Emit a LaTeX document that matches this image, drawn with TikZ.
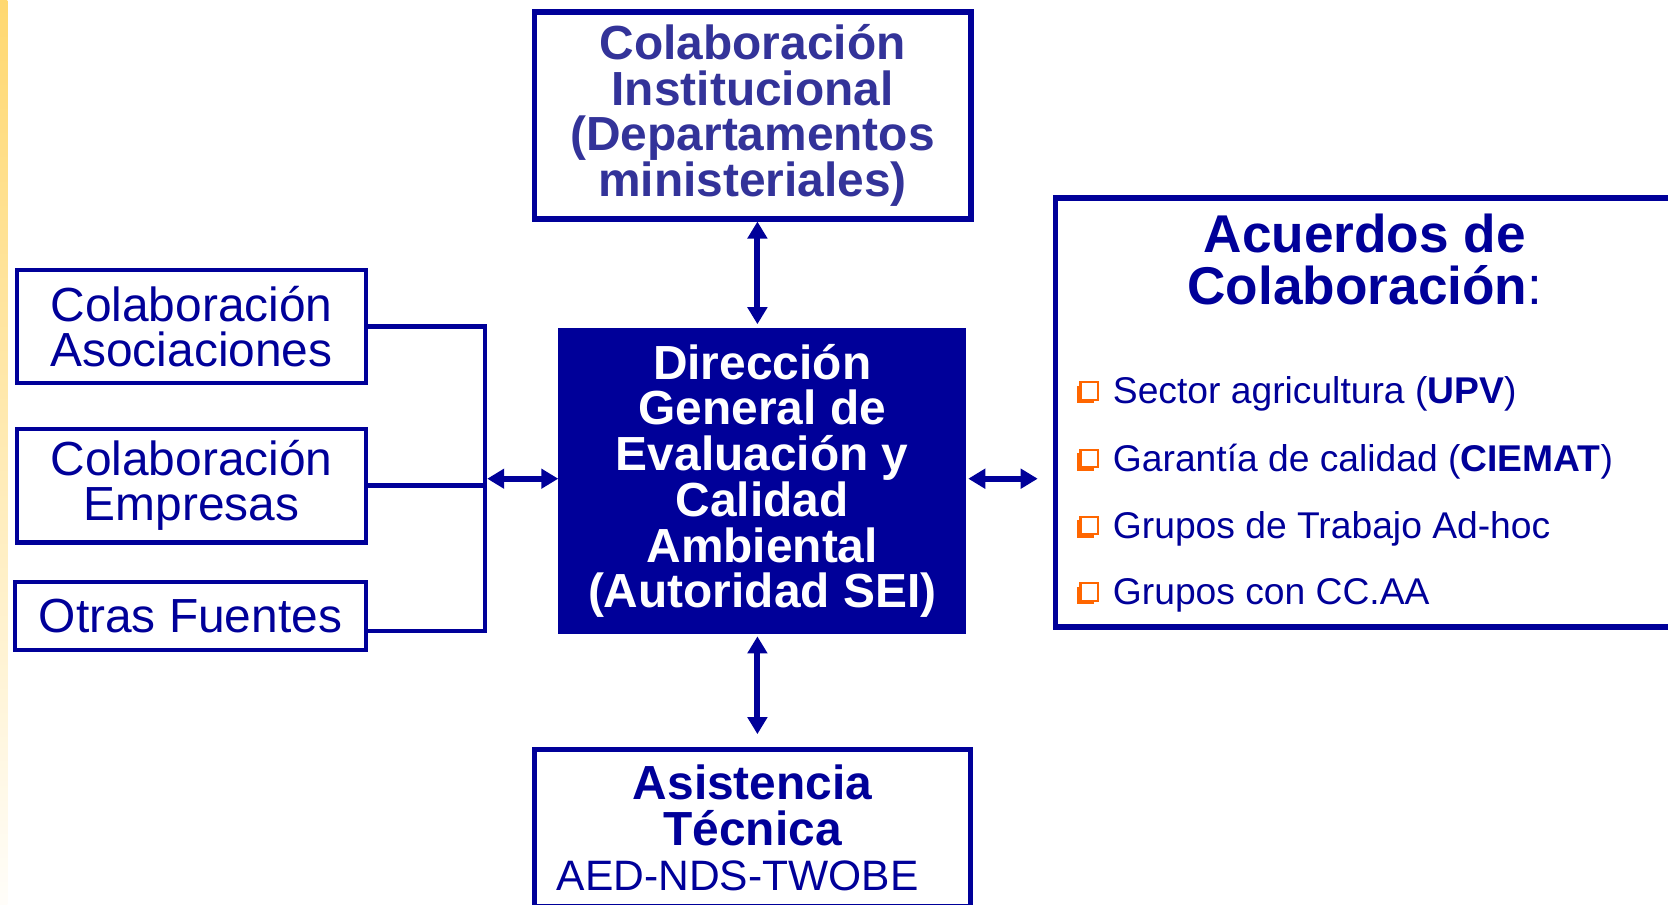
\documentclass[tikz,border=0pt]{standalone}
\usepackage{fontspec}
\setmainfont{Liberation Sans}
\usetikzlibrary{arrows.meta,shadows}

\definecolor{navy}{RGB}{0,0,153}
\definecolor{indigo}{RGB}{51,51,153}
\definecolor{bulletorange}{RGB}{255,102,0}
\definecolor{stripgold}{RGB}{255,216,112}

\tikzset{
  srcbox/.style={draw=navy, line width=4pt, minimum width=328pt, text=navy,
    font=\fontsize{45}{42}\selectfont, align=center, inner sep=0pt},
  framebox/.style={draw=navy, line width=5.5pt, align=center, inner sep=0pt},
  bigbold/.style={font=\bfseries\fontsize{45}{43}\selectfont},
  link/.style={draw=navy, line width=4pt},
  dbl/.style={draw=navy, line width=5.5pt,
    {Triangle[length=16pt,width=18pt]}-{Triangle[length=16pt,width=18pt]}},
  qbox/.style={draw=bulletorange, fill=white, line width=2pt, minimum size=16.5pt,
    inner sep=0pt, drop shadow={shadow xshift=-3.5pt, shadow yshift=-3.5pt,
    fill=bulletorange, opacity=1}},
  listitem/.style={anchor=base west, text=navy, font=\fontsize{35}{36}\selectfont,
    inner sep=0pt}
}

\begin{document}
\begin{tikzpicture}[x=1pt, y=-1pt]
\useasboundingbox (0,0) rectangle (1568,850);
\clip (0,0) rectangle (1568,850);
\shade[top color=stripgold, bottom color=white!96!stripgold] (0,0) rectangle (7,850);

\node[srcbox, minimum height=106pt] (asoc) at (180,307) {Colaboración\\Asociaciones};
\node[srcbox, minimum height=107pt] (empr) at (180,456.5) {Colaboración\\Empresas};
\node[srcbox, minimum width=330pt, minimum height=64pt] (otras) at (179,579) {Otras Fuentes};

\node[framebox, bigbold, text=indigo, minimum width=410pt, minimum height=194pt] (inst)
  at (707.5,108.5) {Colaboración\\Institucional\\(Departamentos\\ministeriales)};

\node[fill=navy, bigbold, text=white, align=center, inner sep=0pt,
  minimum width=383pt, minimum height=288pt] (dgca) at (716.5,452)
  {Dirección\\General de\\Evaluación y\\Calidad\\Ambiental\\(Autoridad SEI)};

\node[framebox, bigbold, line width=4.7pt, text=navy, minimum width=410pt,
  minimum height=147.5pt] (asist) at (707.5,778.25)
  {Asistencia\\Técnica\\{\mdseries\fontsize{40}{42}\selectfont AED-NDS-TWOBE\hspace*{28pt}}};

\node[framebox, minimum width=583.5pt, minimum height=403pt] (acuer) at (1284,388) {};
\node[text=navy, font=\bfseries\fontsize{50}{48.5}\selectfont, align=center, inner sep=0pt]
  (acuertit) at (1283,244) {Acuerdos de\\Colaboración{\mdseries:}};

\node[qbox] (b1) at (1024,367.5) {};
\node[listitem] (upv) at (1046,379.5) {Sector agricultura (\textbf{UPV})};
\node[qbox] (b2) at (1024,431) {};
\node[listitem] (ciemat) at (1046,443) {Garantía de calidad (\textbf{CIEMAT})};
\node[qbox] (b3) at (1024,494) {};
\node[listitem] (adhoc) at (1046,506) {Grupos de Trabajo Ad-hoc};
\node[qbox] (b4) at (1024,556.5) {};
\node[listitem] (ccaa) at (1046,568.5) {Grupos con CC.AA};

\coordinate (bus) at (456,593);
\coordinate (midrow) at (0,450);
\coordinate (vx) at (712,0);

\draw[link] (asoc.east) -| (bus) -- (bus -| otras.east);
\draw[link] (empr.east) -- (empr.east -| bus);

\draw[dbl, shorten <=2pt] (midrow -| bus) -- (midrow -| dgca.west);
\draw[dbl, shorten <=2pt, shorten >=14pt] (midrow -| dgca.east) -- (midrow -| acuer.west);
\draw[dbl, shorten >=3pt] (vx |- inst.south) -- (vx |- dgca.north);
\draw[dbl, shorten <=2pt, shorten >=12pt] (vx |- dgca.south) -- (vx |- asist.north);
\end{tikzpicture}
\end{document}
